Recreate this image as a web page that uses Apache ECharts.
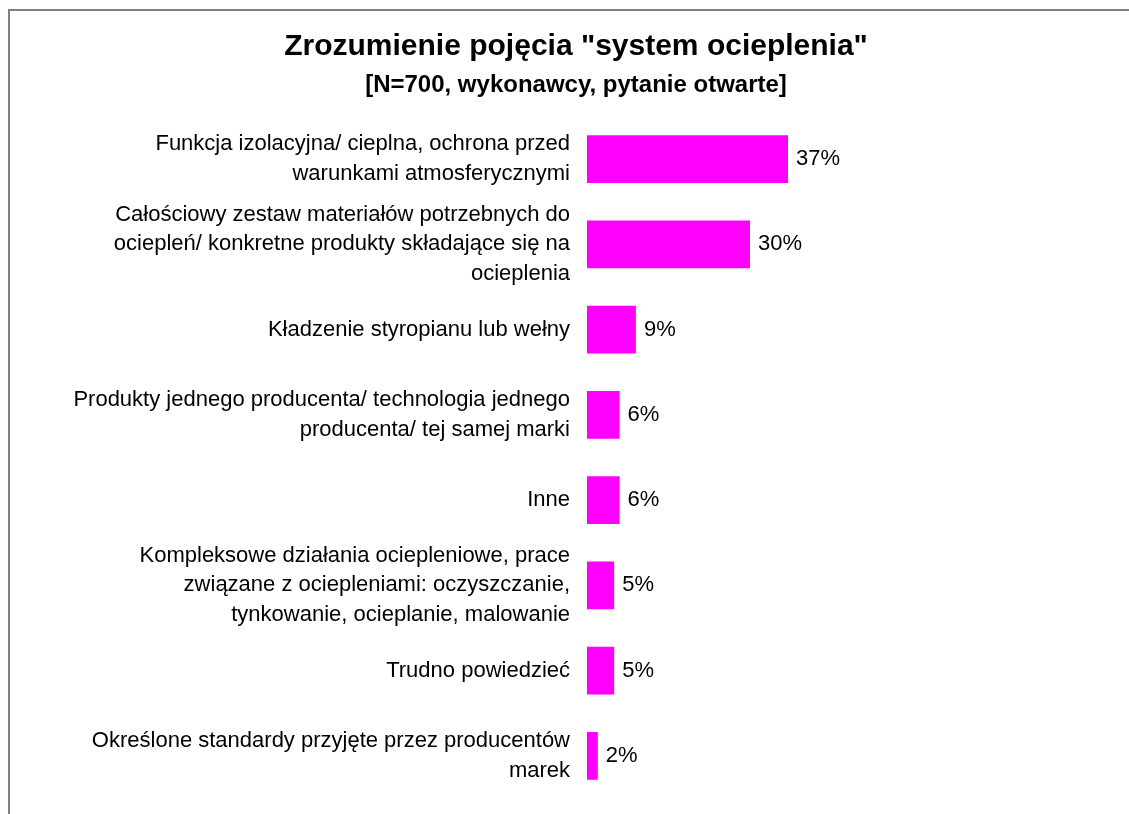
<!DOCTYPE html>
<html>
<head>
<meta charset="utf-8">
<script src="https://cdn.jsdelivr.net/npm/echarts@6/dist/echarts.min.js"></script>
<style>
html,body{margin:0;padding:0;background:#fff;}
#chart{width:1129px;height:814px;}
</style>
</head>
<body>
<div id="chart"></div>
<script>
const titleText = 'Zrozumienie pojęcia "system ocieplenia"';
const subtitleText = '[N=700, wykonawcy, pytanie otwarte]';
const categories = [
  'Funkcja izolacyjna/ cieplna, ochrona przed\nwarunkami atmosferycznymi',
  'Całościowy zestaw materiałów potrzebnych do\nociepleń/ konkretne produkty składające się na\nocieplenia',
  'Kładzenie styropianu lub wełny',
  'Produkty jednego producenta/ technologia jednego\nproducenta/ tej samej marki',
  'Inne',
  'Kompleksowe działania ociepleniowe, prace\nzwiązane z ociepleniami: oczyszczanie,\ntynkowanie, ocieplanie, malowanie',
  'Trudno powiedzieć',
  'Określone standardy przyjęte przez producentów\nmarek'
];
const values = [37, 30, 9, 6, 6, 5, 5, 2];

const FONT = '"Liberation Sans", Arial, sans-serif';
const chart = echarts.init(document.getElementById('chart'), null, {renderer: 'canvas'});
chart.setOption({
  backgroundColor: '#ffffff',
  animation: false,
  graphic: [
    {type: 'polyline', shape: {points: [[9, 814], [9, 10], [1129, 10]]},
     style: {stroke: '#808080', lineWidth: 2, fill: null}},
    {type: 'text', x: 576, y: 47,
     style: {text: titleText, font: 'bold 30px ' + FONT, fill: '#000', align: 'center', verticalAlign: 'middle'}},
    {type: 'text', x: 576, y: 85,
     style: {text: subtitleText, font: 'bold 24px ' + FONT, fill: '#000', align: 'center', verticalAlign: 'middle'}}
  ],
  grid: {left: 587, top: 116.5, height: 682, width: 217.3, containLabel: false},
  xAxis: {
    type: 'value', min: 0, max: 40, show: false
  },
  yAxis: {
    type: 'category', data: categories, inverse: true,
    axisLine: {show: false}, axisTick: {show: false}, splitLine: {show: false},
    axisLabel: {
      margin: 17, fontSize: 22, lineHeight: 29.5, color: '#000', fontFamily: FONT, align: 'right'
    }
  },
  series: [{
    type: 'bar', data: values, barWidth: '56%',
    itemStyle: {color: '#FF00FF'},
    label: {show: true, position: 'right', distance: 8, formatter: '{c}%',
            fontSize: 22, color: '#000', fontFamily: FONT}
  }]
});
</script>
</body>
</html>
